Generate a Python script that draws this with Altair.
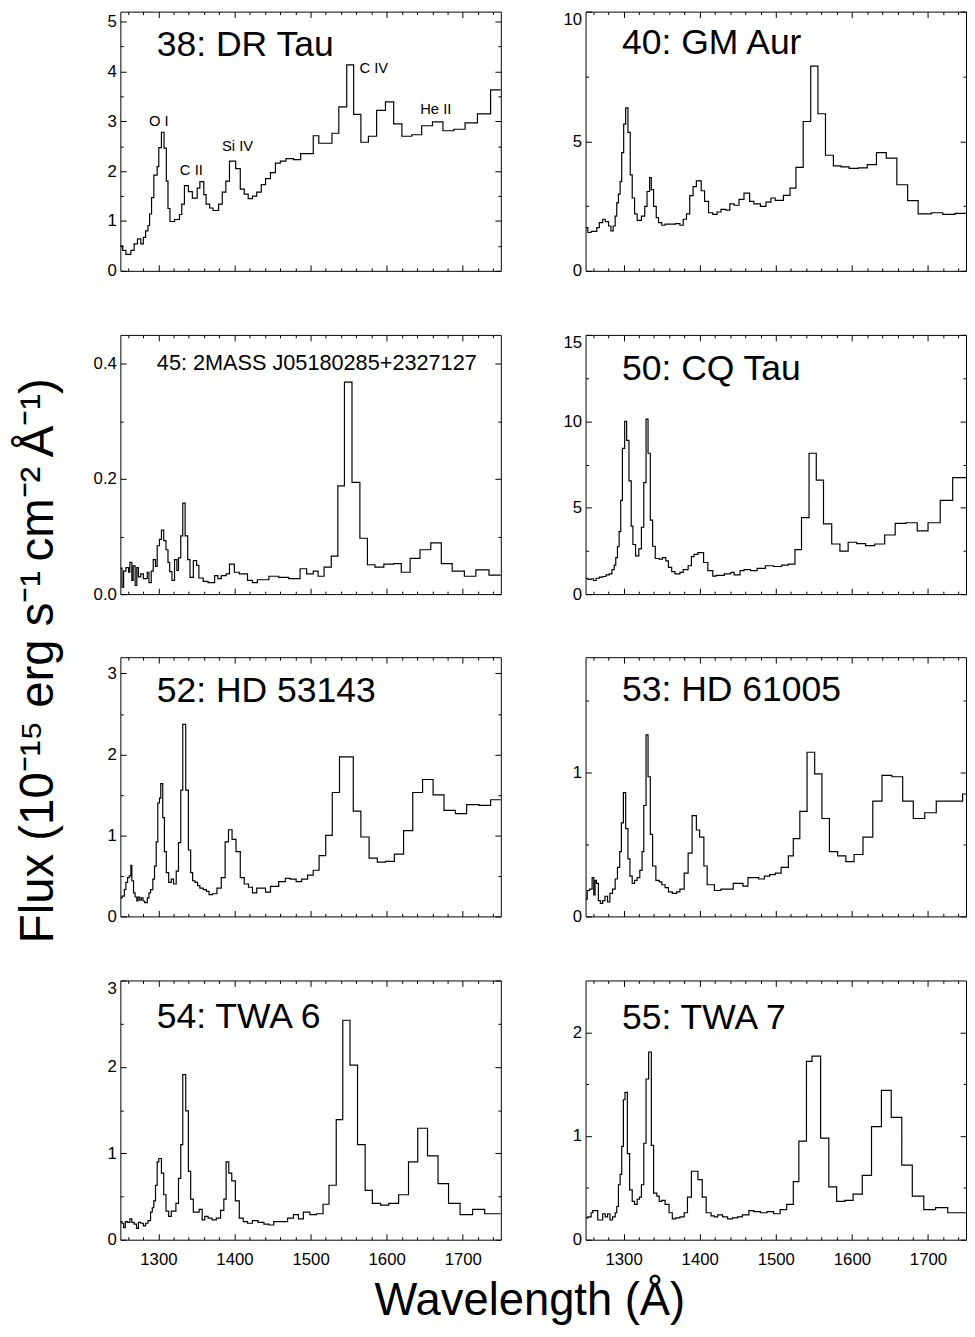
import altair as alt
import pandas as pd

FONT = "Liberation Sans"

# ---------------- data (bin start wavelength in Angstrom, flux in 1e-15 erg/s/cm2/A) -------------
WL_38 = [1250.0, 1253.0, 1257.3, 1263.8, 1268.1, 1272.5, 1276.8, 1280.2, 1283.2, 1286.3, 1288.4, 1291.0,
         1294.0, 1298.4, 1300.5, 1304.0, 1307.4, 1310.4, 1312.6, 1315.2, 1321.2, 1327.7, 1330.7, 1334.2,
         1339.4, 1344.6, 1351.0, 1354.5, 1359.7, 1362.7, 1367.4, 1371.8, 1379.1, 1383.9, 1388.6, 1393.4,
         1401.6, 1407.6, 1412.8, 1418.0, 1423.6, 1429.2, 1435.2, 1440.8, 1447.3, 1453.8, 1460.3, 1467.6,
         1477.5, 1487.0, 1503.5, 1510.8, 1528.1, 1537.1, 1547.5, 1556.6, 1566.1, 1576.0, 1586.8, 1598.4,
         1609.2, 1620.0, 1633.0, 1646.0, 1660.2, 1674.0, 1688.3, 1703.0, 1719.3, 1736.6, 1750.0]
FLUX_38 = [0.50, 0.41, 0.33, 0.41, 0.54, 0.64, 0.54, 0.67, 0.80, 0.91, 1.14, 1.47,
           1.92, 2.09, 2.47, 2.78, 2.46, 1.80, 1.25, 0.99, 1.03, 1.13, 1.34, 1.71,
           1.59, 1.46, 1.66, 1.79, 1.53, 1.34, 1.26, 1.21, 1.34, 1.58, 1.80, 2.20,
           2.05, 1.64, 1.54, 1.45, 1.50, 1.58, 1.73, 1.85, 1.97, 2.16, 2.20, 2.25,
           2.23, 2.35, 2.71, 2.56, 2.76, 3.29, 4.13, 3.14, 2.58, 2.70, 3.22, 3.39,
           2.95, 2.70, 2.73, 2.91, 2.99, 2.81, 2.84, 2.97, 3.15, 3.63, 3.63]

WL_40 = [1250.0, 1253.0, 1257.3, 1264.7, 1268.1, 1272.5, 1275.9, 1280.2, 1283.3, 1286.3, 1288.9, 1291.0,
         1293.2, 1295.4, 1297.5, 1300.1, 1302.7, 1305.7, 1308.7, 1311.3, 1314.4, 1317.8, 1323.4, 1327.8,
         1330.8, 1334.2, 1336.4, 1339.4, 1342.9, 1345.9, 1350.2, 1354.5, 1368.4, 1374.0, 1378.3, 1382.6,
         1386.9, 1391.3, 1395.6, 1402.0, 1406.4, 1411.6, 1417.2, 1422.8, 1428.0, 1434.4, 1439.6, 1445.2,
         1451.7, 1458.2, 1465.6, 1471.2, 1479.8, 1487.1, 1493.6, 1499.2, 1510.0, 1518.7, 1526.5, 1536.0,
         1545.9, 1555.4, 1565.3, 1575.7, 1585.6, 1596.4, 1608.5, 1620.2, 1632.3, 1645.2, 1659.1, 1673.3,
         1687.1, 1704.4, 1719.5, 1735.5, 1750.0]
FLUX_40 = [1.67, 1.48, 1.52, 1.67, 1.86, 1.99, 1.90, 1.73, 1.54, 1.73, 2.11, 2.62,
           2.96, 3.44, 4.56, 5.66, 6.29, 5.34, 3.70, 2.81, 2.20, 1.95, 2.11, 2.49,
           3.06, 3.60, 3.13, 2.49, 2.05, 1.86, 1.76, 1.80, 1.82, 1.76, 1.99, 2.20,
           2.90, 3.25, 3.47, 3.09, 2.68, 2.24, 2.18, 2.27, 2.37, 2.34, 2.58, 2.53,
           2.76, 3.00, 2.68, 2.58, 2.49, 2.65, 2.81, 2.72, 2.91, 3.19, 3.99, 5.76,
           7.90, 6.06, 4.46, 4.05, 4.01, 3.95, 3.97, 4.10, 4.56, 4.35, 3.32, 2.71,
           2.20, 2.24, 2.18, 2.22, 2.22]

WL_45 = [1250.0, 1252.2, 1254.3, 1257.3, 1260.8, 1262.5, 1265.1, 1266.8, 1269.4, 1271.6, 1273.7, 1276.8,
         1280.2, 1285.4, 1287.6, 1290.6, 1293.2, 1296.2, 1298.4, 1301.4, 1304.0, 1307.0, 1310.0, 1312.6,
         1314.8, 1317.8, 1321.2, 1324.3, 1326.4, 1329.4, 1332.0, 1335.1, 1338.5, 1341.5, 1345.9, 1350.2,
         1353.2, 1358.8, 1365.3, 1373.9, 1378.2, 1382.6, 1389.0, 1393.4, 1399.8, 1406.3, 1417.1, 1423.6,
         1430.0, 1445.2, 1458.1, 1471.1, 1486.2, 1494.8, 1503.5, 1509.9, 1517.7, 1527.2, 1535.8, 1544.5,
         1554.4, 1564.8, 1574.7, 1584.6, 1596.3, 1609.2, 1619.2, 1630.8, 1643.8, 1658.0, 1671.8, 1686.1,
         1702.1, 1717.2, 1734.5, 1750.0]
FLUX_45 = [0.045, 0.012, 0.040, 0.046, 0.038, 0.055, 0.024, 0.049, 0.015, 0.046, 0.030, 0.035,
           0.027, 0.038, 0.020, 0.040, 0.060, 0.048, 0.084, 0.095, 0.111, 0.093, 0.077, 0.055,
           0.039, 0.024, 0.060, 0.041, 0.063, 0.101, 0.158, 0.101, 0.060, 0.029, 0.058, 0.050,
           0.028, 0.022, 0.020, 0.032, 0.027, 0.032, 0.035, 0.052, 0.038, 0.035, 0.024, 0.020,
           0.025, 0.031, 0.029, 0.027, 0.044, 0.035, 0.040, 0.031, 0.047, 0.066, 0.188, 0.368,
           0.194, 0.097, 0.051, 0.047, 0.052, 0.053, 0.038, 0.062, 0.077, 0.089, 0.053, 0.040,
           0.031, 0.042, 0.033, 0.033]

WL_50 = [1250.0, 1253.0, 1257.3, 1260.4, 1263.8, 1268.1, 1272.5, 1276.8, 1281.1, 1284.6, 1287.6, 1289.7,
         1291.9, 1294.1, 1296.2, 1298.4, 1301.4, 1304.0, 1307.0, 1310.0, 1312.2, 1315.7, 1320.0, 1323.4,
         1326.5, 1329.5, 1332.1, 1335.1, 1338.1, 1341.6, 1346.8, 1351.1, 1355.4, 1358.9, 1363.2, 1367.5,
         1374.0, 1378.3, 1384.8, 1389.1, 1392.5, 1397.7, 1405.1, 1410.7, 1417.2, 1421.5, 1432.3, 1440.9,
         1445.2, 1453.0, 1458.2, 1466.8, 1475.5, 1486.3, 1497.1, 1507.9, 1516.5, 1525.2, 1533.8, 1543.7,
         1553.2, 1562.7, 1573.5, 1584.3, 1595.1, 1606.4, 1618.0, 1630.1, 1643.1, 1656.9, 1671.2, 1685.9,
         1700.1, 1716.1, 1732.5, 1750.0]
FLUX_50 = [0.92, 0.85, 0.89, 0.79, 0.92, 0.98, 1.02, 1.11, 1.17, 1.42, 1.68, 2.11,
           2.74, 3.62, 5.42, 8.43, 10.0, 8.90, 6.55, 3.94, 2.87, 2.21, 2.62, 3.87,
           6.45, 10.13, 8.15, 4.28, 2.77, 2.06, 2.02, 2.11, 1.92, 1.55, 1.30, 1.17,
           1.26, 1.42, 1.64, 2.17, 2.30, 2.40, 1.83, 1.36, 1.04, 1.08, 1.17, 1.26,
           1.11, 1.36, 1.42, 1.36, 1.49, 1.64, 1.60, 1.68, 1.74, 2.58, 4.43, 8.15,
           6.60, 4.06, 2.90, 2.49, 3.00, 2.92, 2.81, 2.90, 3.42, 4.09, 4.13, 3.66,
           4.13, 5.42, 6.74, 6.74]

WL_52 = [1250.0, 1252.2, 1255.2, 1257.3, 1259.5, 1261.7, 1263.8, 1265.1, 1267.3, 1269.4, 1271.6, 1273.3,
         1275.5, 1277.6, 1279.8, 1282.0, 1285.4, 1287.6, 1289.7, 1292.7, 1294.9, 1297.1, 1299.2, 1301.4,
         1303.1, 1305.7, 1307.9, 1310.4, 1313.5, 1316.9, 1319.9, 1323.4, 1326.4, 1329.4, 1332.0, 1335.9,
         1339.4, 1342.4, 1345.0, 1348.0, 1351.5, 1354.5, 1358.8, 1363.1, 1366.6, 1370.9, 1376.9, 1382.6,
         1387.7, 1392.1, 1396.8, 1402.0, 1407.6, 1412.8, 1418.4, 1423.6, 1429.2, 1440.8, 1447.3, 1458.1,
         1466.8, 1473.2, 1481.0, 1488.3, 1496.1, 1503.5, 1511.2, 1519.9, 1528.5, 1538.0, 1556.1, 1566.1,
         1576.9, 1587.7, 1598.4, 1610.1, 1622.2, 1634.3, 1647.2, 1661.0, 1675.3, 1690.4, 1705.1, 1721.5,
         1736.6, 1750.0]
FLUX_52 = [0.23, 0.25, 0.33, 0.42, 0.48, 0.50, 0.63, 0.44, 0.29, 0.24, 0.19, 0.24,
           0.20, 0.23, 0.19, 0.17, 0.23, 0.29, 0.33, 0.46, 0.62, 0.92, 1.40, 1.46,
           1.64, 1.22, 0.80, 0.54, 0.42, 0.46, 0.40, 0.56, 0.91, 1.56, 2.37, 1.56,
           0.82, 0.54, 0.44, 0.42, 0.38, 0.35, 0.33, 0.31, 0.27, 0.28, 0.35, 0.48,
           0.92, 1.07, 0.95, 0.80, 0.48, 0.40, 0.36, 0.29, 0.35, 0.30, 0.37, 0.43,
           0.47, 0.46, 0.43, 0.46, 0.51, 0.57, 0.75, 1.00, 1.53, 1.97, 1.30, 0.98,
           0.72, 0.67, 0.68, 0.77, 1.06, 1.53, 1.69, 1.50, 1.31, 1.27, 1.38, 1.37,
           1.44, 1.44]

WL_53 = [1250.0, 1252.2, 1255.2, 1258.6, 1260.8, 1262.5, 1264.3, 1266.8, 1269.4, 1272.5, 1275.5, 1278.9,
         1282.0, 1285.4, 1288.9, 1291.9, 1294.9, 1297.1, 1299.7, 1302.7, 1305.7, 1308.3, 1311.3, 1314.4,
         1317.8, 1321.3, 1324.3, 1326.5, 1329.5, 1332.1, 1335.1, 1338.1, 1342.4, 1346.8, 1350.2, 1354.5,
         1358.9, 1364.0, 1369.7, 1374.0, 1379.6, 1384.8, 1390.0, 1395.6, 1399.9, 1405.5, 1409.8, 1419.3,
         1428.0, 1436.6, 1444.0, 1450.4, 1456.9, 1463.4, 1471.2, 1477.6, 1485.0, 1491.9, 1499.2, 1507.0,
         1516.5, 1523.0, 1531.6, 1541.1, 1551.1, 1560.6, 1570.5, 1581.3, 1592.1, 1602.9, 1614.6, 1627.5,
         1639.6, 1652.6, 1666.8, 1680.7, 1695.8, 1710.9, 1728.2, 1745.5, 1750.0]
FLUX_53 = [0.12, 0.18, 0.19, 0.27, 0.15, 0.25, 0.23, 0.11, 0.09, 0.11, 0.14, 0.10,
           0.16, 0.19, 0.26, 0.34, 0.45, 0.65, 0.86, 0.61, 0.40, 0.28, 0.23, 0.25,
           0.27, 0.32, 0.45, 0.77, 1.26, 0.97, 0.57, 0.35, 0.25, 0.24, 0.22, 0.20,
           0.17, 0.16, 0.17, 0.19, 0.30, 0.44, 0.70, 0.60, 0.55, 0.35, 0.22, 0.18,
           0.19, 0.19, 0.23, 0.23, 0.21, 0.27, 0.27, 0.26, 0.28, 0.29, 0.30, 0.34,
           0.42, 0.54, 0.73, 1.14, 0.99, 0.68, 0.45, 0.42, 0.38, 0.43, 0.55, 0.80,
           0.98, 0.97, 0.80, 0.68, 0.72, 0.80, 0.80, 0.85, 0.85]

WL_54 = [1250.0, 1252.2, 1254.3, 1256.5, 1259.5, 1262.5, 1265.1, 1268.1, 1271.2, 1273.7, 1276.8, 1280.2,
         1283.2, 1286.3, 1289.7, 1291.9, 1294.0, 1296.2, 1298.4, 1300.5, 1304.0, 1307.0, 1310.0, 1313.5,
         1316.9, 1319.9, 1323.0, 1326.4, 1329.4, 1332.0, 1335.9, 1339.4, 1342.4, 1345.9, 1349.3, 1353.6,
         1357.5, 1361.0, 1365.3, 1370.5, 1376.1, 1381.7, 1386.0, 1389.0, 1392.5, 1396.4, 1401.1, 1406.3,
         1411.5, 1417.1, 1423.6, 1430.9, 1438.7, 1445.2, 1451.6, 1460.3, 1469.8, 1477.5, 1484.0, 1490.5,
         1499.1, 1507.8, 1516.4, 1524.2, 1533.7, 1542.3, 1551.8, 1561.7, 1571.7, 1581.2, 1592.0, 1602.8,
         1615.7, 1628.7, 1640.8, 1653.7, 1667.5, 1681.3, 1696.5, 1712.9, 1728.8, 1750.0]
FLUX_54 = [0.21, 0.19, 0.14, 0.21, 0.20, 0.24, 0.20, 0.18, 0.13, 0.20, 0.19, 0.16,
           0.19, 0.22, 0.32, 0.37, 0.45, 0.63, 0.90, 0.94, 0.77, 0.52, 0.33, 0.27,
           0.33, 0.33, 0.42, 0.71, 1.10, 1.91, 1.49, 0.79, 0.47, 0.32, 0.32, 0.35,
           0.23, 0.27, 0.25, 0.23, 0.25, 0.34, 0.47, 0.90, 0.77, 0.68, 0.45, 0.25,
           0.21, 0.19, 0.22, 0.20, 0.18, 0.17, 0.21, 0.21, 0.25, 0.29, 0.24, 0.32,
           0.29, 0.30, 0.41, 0.63, 1.39, 2.54, 2.02, 1.10, 0.57, 0.42, 0.40, 0.42,
           0.52, 0.90, 1.29, 0.97, 0.65, 0.42, 0.29, 0.35, 0.30, 0.30]

WL_55 = [1250.0, 1253.0, 1257.3, 1259.5, 1266.0, 1272.5, 1275.9, 1278.9, 1282.0, 1285.4, 1288.9, 1291.0,
         1293.2, 1295.4, 1297.5, 1299.7, 1301.8, 1304.9, 1307.9, 1311.3, 1314.4, 1317.8, 1320.8, 1323.4,
         1326.5, 1329.5, 1332.9, 1336.4, 1339.4, 1343.7, 1346.8, 1350.2, 1354.5, 1359.7, 1364.0, 1368.4,
         1374.0, 1379.6, 1383.9, 1389.1, 1397.7, 1403.3, 1408.5, 1415.0, 1419.3, 1423.7, 1430.1, 1436.6,
         1443.1, 1449.6, 1456.0, 1464.7, 1471.2, 1479.8, 1488.4, 1497.1, 1505.7, 1514.4, 1523.0, 1530.3,
         1540.3, 1547.6, 1558.9, 1569.7, 1580.0, 1590.8, 1601.6, 1613.7, 1625.8, 1638.8, 1651.7, 1665.6,
         1679.4, 1694.5, 1710.0, 1726.0, 1750.0]
FLUX_55 = [0.21, 0.22, 0.26, 0.28, 0.19, 0.25, 0.22, 0.25, 0.19, 0.22, 0.26, 0.32,
           0.53, 0.63, 0.90, 1.35, 1.42, 0.83, 0.48, 0.37, 0.34, 0.39, 0.41, 0.53,
           0.93, 1.55, 1.81, 0.91, 0.45, 0.42, 0.37, 0.38, 0.34, 0.26, 0.20, 0.21,
           0.22, 0.26, 0.41, 0.66, 0.58, 0.41, 0.26, 0.23, 0.22, 0.24, 0.22, 0.20,
           0.21, 0.22, 0.24, 0.28, 0.27, 0.26, 0.27, 0.25, 0.29, 0.34, 0.56, 0.95,
           1.72, 1.77, 0.98, 0.51, 0.37, 0.38, 0.44, 0.62, 1.09, 1.44, 1.18, 0.72,
           0.42, 0.29, 0.31, 0.26, 0.26]

NAMES = ["38: DR Tau", "40: GM Aur", "45: 2MASS J05180285+2327127", "50: CQ Tau",
         "52: HD 53143", "53: HD 61005", "54: TWA 6", "55: TWA 7"]
WLS = [WL_38, WL_40, WL_45, WL_50, WL_52, WL_53, WL_54, WL_55]
FLUXES = [FLUX_38, FLUX_40, FLUX_45, FLUX_50, FLUX_52, FLUX_53, FLUX_54, FLUX_55]
YMAX = [5.2, 10, 0.45, 15, 3.2, 1.8, 3, 2.5]
Y_MAJOR = [[0, 1, 2, 3, 4, 5], [0, 5, 10], [0, 0.2, 0.4], [0, 5, 10, 15],
           [0, 1, 2, 3], [0, 1], [0, 1, 2, 3], [0, 1, 2]]
Y_MINOR = [[0.5, 1.5, 2.5, 3.5, 4.5], [2.5, 7.5], [0.1, 0.3], [2.5, 7.5, 12.5],
           [0.5, 1.5, 2.5], [0.5, 1.5], [0.5, 1.5, 2.5], [0.5, 1.5]]
Y_FMT = ["d", "d", ".1f", "d", "d", "d", "d", "d"]
X_MAJOR = [1300, 1400, 1500, 1600, 1700]
X_MINOR = [1260, 1280, 1320, 1340, 1360, 1380, 1420, 1440, 1460, 1480,
           1520, 1540, 1560, 1580, 1620, 1640, 1660, 1680, 1720, 1740]

# emission-line labels in panel 38
LINE_IONS = ["O I", "C II", "Si IV", "C IV", "He II"]
LINE_WL = [1300.5, 1343.3, 1404.0, 1583.0, 1664.5]
LINE_FLUX = [3.0, 2.02, 2.51, 4.07, 3.24]

Y_TITLE = "Flux (10\u207b\u00b9\u2075 erg s\u207b\u00b9\u2009cm\u207b\u00b2\u2009\u00c5\u207b\u00b9)"
X_TITLE = "Wavelength (\u00c5)"

# styling
TITLE_SIZE = [36, 36, 22, 36, 36, 36, 36, 36]
TITLE_Y = [34, 32, 29, 35, 34, 33, 37, 38]
PW, PH = 386, 263


def axis(orient, values, size, labels=False, fmt=None, pad=0, top_value=None):
    kw = dict(orient=orient, values=values, tickSize=size, offset=-size, domain=False,
              grid=False, labels=labels, tickColor="black", tickWidth=1, minExtent=0,
              maxExtent=60, title=None)
    if labels:
        kw.update(format=fmt, labelPadding=pad, labelFont=FONT, labelFontSize=17,
                  labelColor="black", labelFlush=False, labelOverlap=False)
        if top_value is not None:
            # label sitting on the top edge hangs below it
            kw["labelBaseline"] = {"condition": {"test": f"datum.value >= {top_value - 1e-6}",
                                                 "value": "top"},
                                   "value": "middle"}
    return alt.Axis(**kw)


def panel(i, bottom_row):
    df = pd.DataFrame({"wl": WLS[i], "flux": FLUXES[i]})
    xs = alt.Scale(domain=[1250, 1750], nice=False, zero=False)
    ys = alt.Scale(domain=[0, YMAX[i]], nice=False, zero=False)

    def line(xa, ya, op):
        return alt.Chart(df).mark_line(
            interpolate="step-after", color="black", strokeWidth=1.2, opacity=op, clip=True
        ).encode(x=alt.X("wl:Q", scale=xs, axis=xa), y=alt.Y("flux:Q", scale=ys, axis=ya))

    layers = [
        line(axis("bottom", X_MAJOR, 6, labels=bottom_row, fmt="d", pad=12),
             axis("left", Y_MAJOR[i], 6, labels=True, fmt=Y_FMT[i], pad=4, top_value=YMAX[i]), 1),
        line(axis("top", X_MAJOR, 6), axis("right", Y_MAJOR[i], 6), 0),
        line(axis("bottom", X_MINOR, 3), axis("left", Y_MINOR[i], 3), 0),
        line(axis("top", X_MINOR, 3), axis("right", Y_MINOR[i], 3), 0),
    ]
    title = alt.Chart(pd.DataFrame({"name": [NAMES[i]]})).mark_text(
        align="left", baseline="middle", font=FONT, fontSize=TITLE_SIZE[i], color="black"
    ).encode(x=alt.value(37), y=alt.value(TITLE_Y[i]), text="name:N")
    layers.append(title)
    if i == 0:
        ann = alt.Chart(pd.DataFrame({"wl": LINE_WL, "flux": LINE_FLUX, "ion": LINE_IONS})).mark_text(
            align="center", baseline="middle", font=FONT, fontSize=15, color="black"
        ).encode(x=alt.X("wl:Q", scale=xs, axis=None), y=alt.Y("flux:Q", scale=ys, axis=None),
                 text="ion:N")
        layers.append(ann)
    return alt.layer(*layers).resolve_axis(x="independent", y="independent").properties(
        width=PW, height=PH)


panels = [panel(i, i >= 6) for i in range(8)]

grid = alt.concat(*panels, columns=2, spacing={"row": 54, "column": 61}).properties(
    title=alt.TitleParams(text=Y_TITLE, orient="left", anchor="middle", font=FONT,
                          fontSize=48, fontWeight="normal", color="black", offset=30, dx=-22))

chart = alt.vconcat(grid).properties(
    title=alt.TitleParams(text=X_TITLE, orient="bottom", anchor="middle",
                          font=FONT, fontSize=46, fontWeight="normal", color="black",
                          offset=12, dx=39),
    padding={"left": 7, "top": -8, "right": 0, "bottom": 0},
).configure_view(stroke="black", strokeWidth=1)

chart.save("out.html", embed_options={"renderer": "svg", "actions": False})
